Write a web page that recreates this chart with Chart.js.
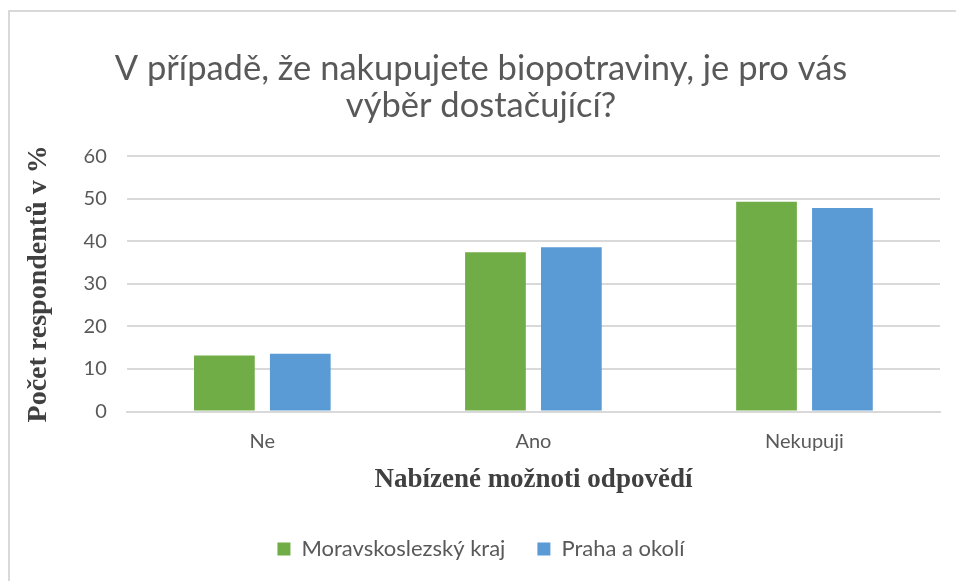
<!DOCTYPE html>
<html>
<head>
<meta charset="utf-8">
<script src="https://cdn.jsdelivr.net/npm/chart.js@4/dist/chart.umd.min.js"></script>
<style>
  html, body { margin: 0; padding: 0; background: #fff; }
  #wrap { position: relative; width: 956px; height: 581px; overflow: hidden; }
  #frame { position: absolute; left: 8px; top: 10px; width: 1000px; height: 700px; border: 2px solid #d9d9d9; box-sizing: border-box; }
  #chart { position: absolute; left: 0; top: 0; }
</style>
</head>
<body>
<div id="wrap">
  <div id="frame"></div>
  <canvas id="chart" width="956" height="581"></canvas>
</div>
<script>
// ─── data ─────────────────────────────────────────────────────────────────────
const categories = ['Ne', 'Ano', 'Nekupuji'];
const moravskoslezsky = [13.2, 37.4, 49.3];
const praha = [13.6, 38.6, 47.8];
const titleLines = ['V případě, že nakupujete biopotraviny, je pro vás', 'výběr dostačující?'];

const GREEN = '#70ad47';
const BLUE = '#5b9bd5';
const GRID = '#d9d9d9';
const TEXT = '#595959';
const SANS = 'Lato, "Open Sans", sans-serif';
const SERIF = '"Liberation Serif", "DejaVu Serif", serif';

new Chart(document.getElementById('chart'), {
  type: 'bar',
  data: {
    labels: categories,
    datasets: [
      { label: 'Moravskoslezský kraj', data: moravskoslezsky, backgroundColor: GREEN, borderWidth: 0 },
      { label: 'Praha a okolí', data: praha, backgroundColor: BLUE, borderWidth: 0 },
    ],
  },
  options: {
    responsive: false, animation: false,
    categoryPercentage: 0.56, barPercentage: 0.8,
    layout: { padding: { left: 22, right: 16, top: 51, bottom: 11 } },
    plugins: {
      title: {
        display: true, text: titleLines, color: TEXT,
        font: { family: SANS, size: 34.5, weight: 'normal', lineHeight: 1.06 },
        padding: { top: 0, bottom: 32 },
      },
      legend: {
        position: 'bottom',
        labels: { color: TEXT, font: { family: SANS, size: 22 }, boxWidth: 13, boxHeight: 13, padding: 32 },
      },
      tooltip: { enabled: false },
    },
    scales: {
      x: {
        grid: { display: false },
        border: { color: GRID, width: 2 },
        ticks: { color: TEXT, font: { family: SANS, size: 20 }, padding: 10 },
        title: { display: true, text: 'Nabízené možnoti odpovědí', color: '#404040', font: { family: SERIF, size: 27, weight: 'bold' }, padding: { top: 0, bottom: 10 } },
      },
      y: {
        min: 0, max: 60,
        ticks: { stepSize: 10, color: TEXT, font: { family: SANS, size: 20 }, padding: 20 },
        grid: { color: GRID, lineWidth: 2, drawTicks: false },
        border: { display: false },
        title: { display: true, text: 'Počet respondentů v %', color: '#404040', font: { family: SERIF, size: 28, weight: 'bold' }, padding: { top: 0, bottom: 8 } },
      },
    },
  },
});
</script>
</body>
</html>
